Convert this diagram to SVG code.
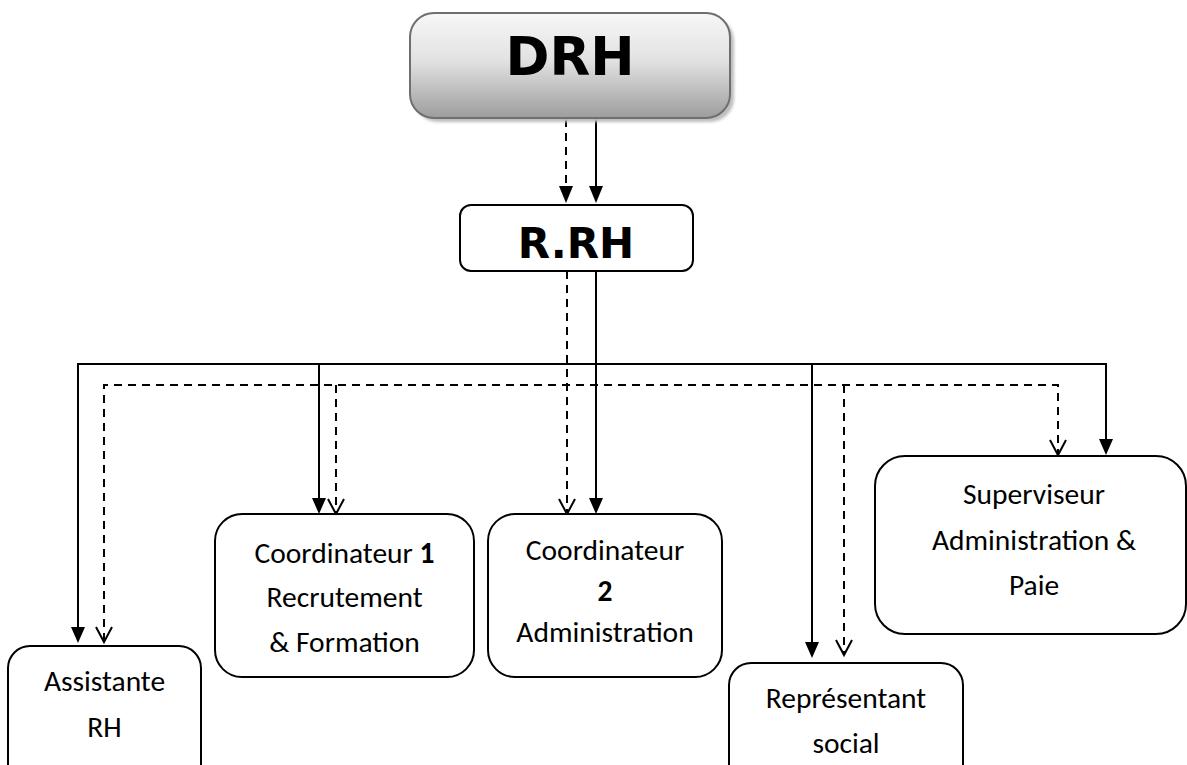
<svg xmlns="http://www.w3.org/2000/svg" width="1187" height="765" viewBox="0 0 1187 765">
<style>
.box{fill:#fff;stroke:#000;stroke-width:2}
.t{font-family:Carlito,Lato,"Open Sans",sans-serif;font-size:29.5px;fill:#000;text-anchor:middle}
.b{font-weight:bold}
.h{font-family:"DejaVu Sans",sans-serif;font-weight:bold;fill:#000;text-anchor:middle}
.s{fill:none;stroke:#000;stroke-width:2}
.d{fill:none;stroke:#000;stroke-width:2;stroke-dasharray:8 6}
</style>
<defs>
<linearGradient id="g" x1="0" y1="0" x2="0" y2="1">
<stop offset="0" stop-color="#f7f7f7"/>
<stop offset="0.45" stop-color="#e2e2e2"/>
<stop offset="1" stop-color="#9d9d9d"/>
</linearGradient>
<filter id="blur" x="-10%" y="-10%" width="120%" height="130%"><feGaussianBlur stdDeviation="1.5"/></filter>
</defs>

<g id="connectors">
<!-- DRH to R.RH -->
<line class="d" x1="566" y1="119" x2="566" y2="190"/>
<path d="M559,186 L573,186 L566,203 Z" fill="#000"/>
<line class="s" x1="596" y1="119" x2="596" y2="190"/>
<path d="M589,186 L603,186 L596,203 Z" fill="#000"/>
<!-- solid hierarchy -->
<line class="s" x1="596" y1="271" x2="596" y2="500"/>
<polyline class="s" points="78,628 78,364 1106,364 1106,441"/>
<line class="s" x1="319" y1="364" x2="319" y2="500"/>
<line class="s" x1="812" y1="364" x2="812" y2="644"/>
<path d="M71,627 L85,627 L78,643 Z" fill="#000"/>
<path d="M312,498 L326,498 L319,514 Z" fill="#000"/>
<path d="M589,498 L603,498 L596,514 Z" fill="#000"/>
<path d="M805,642 L819,642 L812,658 Z" fill="#000"/>
<path d="M1099,439 L1113,439 L1106,455 Z" fill="#000"/>
<!-- dashed functional -->
<line class="d" x1="567" y1="271" x2="567" y2="512"/>
<polyline class="d" points="104,641 104,385 1058,385 1058,453"/>
<line class="d" x1="336" y1="385" x2="336" y2="512"/>
<line class="d" x1="844" y1="385" x2="844" y2="654"/>
<path class="s" d="M96,627 L104,642 L112,627"/>
<path class="s" d="M328,499 L336,514 L344,499"/>
<path class="s" d="M559,499 L567,514 L575,499"/>
<path class="s" d="M836,640 L844,655 L852,640"/>
<path class="s" d="M1050,440 L1058,455 L1066,440"/>
</g>

<g id="drh">
<rect x="414" y="17" width="320" height="105" rx="24" fill="#bdbdbd" filter="url(#blur)"/>
<rect x="410" y="13" width="320" height="105" rx="24" fill="url(#g)" stroke="#6f6f6f" stroke-width="2"/>
<text class="h" x="570" y="75" font-size="53">DRH</text>
</g>

<g id="rrh">
<rect class="box" x="460" y="205" width="233" height="66" rx="11"/>
<text class="h" x="576" y="258" font-size="42">R.RH</text>
</g>

<g id="assistante">
<rect class="box" x="8" y="646" width="193" height="140" rx="22"/>
<text class="t" x="104.5" y="691">Assistante</text>
<text class="t" x="104.5" y="737">RH</text>
</g>

<g id="coord1">
<rect class="box" x="215" y="514" width="259" height="163" rx="27"/>
<text class="t" x="344.5" y="563">Coordinateur <tspan class="b">1</tspan></text>
<text class="t" x="344.5" y="607">Recrutement</text>
<text class="t" x="344.5" y="652">&amp; Formation</text>
</g>

<g id="coord2">
<rect class="box" x="488" y="514" width="234" height="163" rx="27"/>
<text class="t" x="605" y="560">Coordinateur</text>
<text class="t b" x="605" y="601">2</text>
<text class="t" x="605" y="642">Administration</text>
</g>

<g id="representant">
<rect class="box" x="729" y="663" width="234" height="130" rx="22"/>
<text class="t" x="846" y="708">Représentant</text>
<text class="t" x="846" y="753">social</text>
</g>

<g id="superviseur">
<rect class="box" x="875" y="456" width="311" height="178" rx="30"/>
<text class="t" x="1034" y="504">Superviseur</text>
<text class="t" x="1034" y="550">Administration &amp;</text>
<text class="t" x="1034" y="595">Paie</text>
</g>
</svg>
